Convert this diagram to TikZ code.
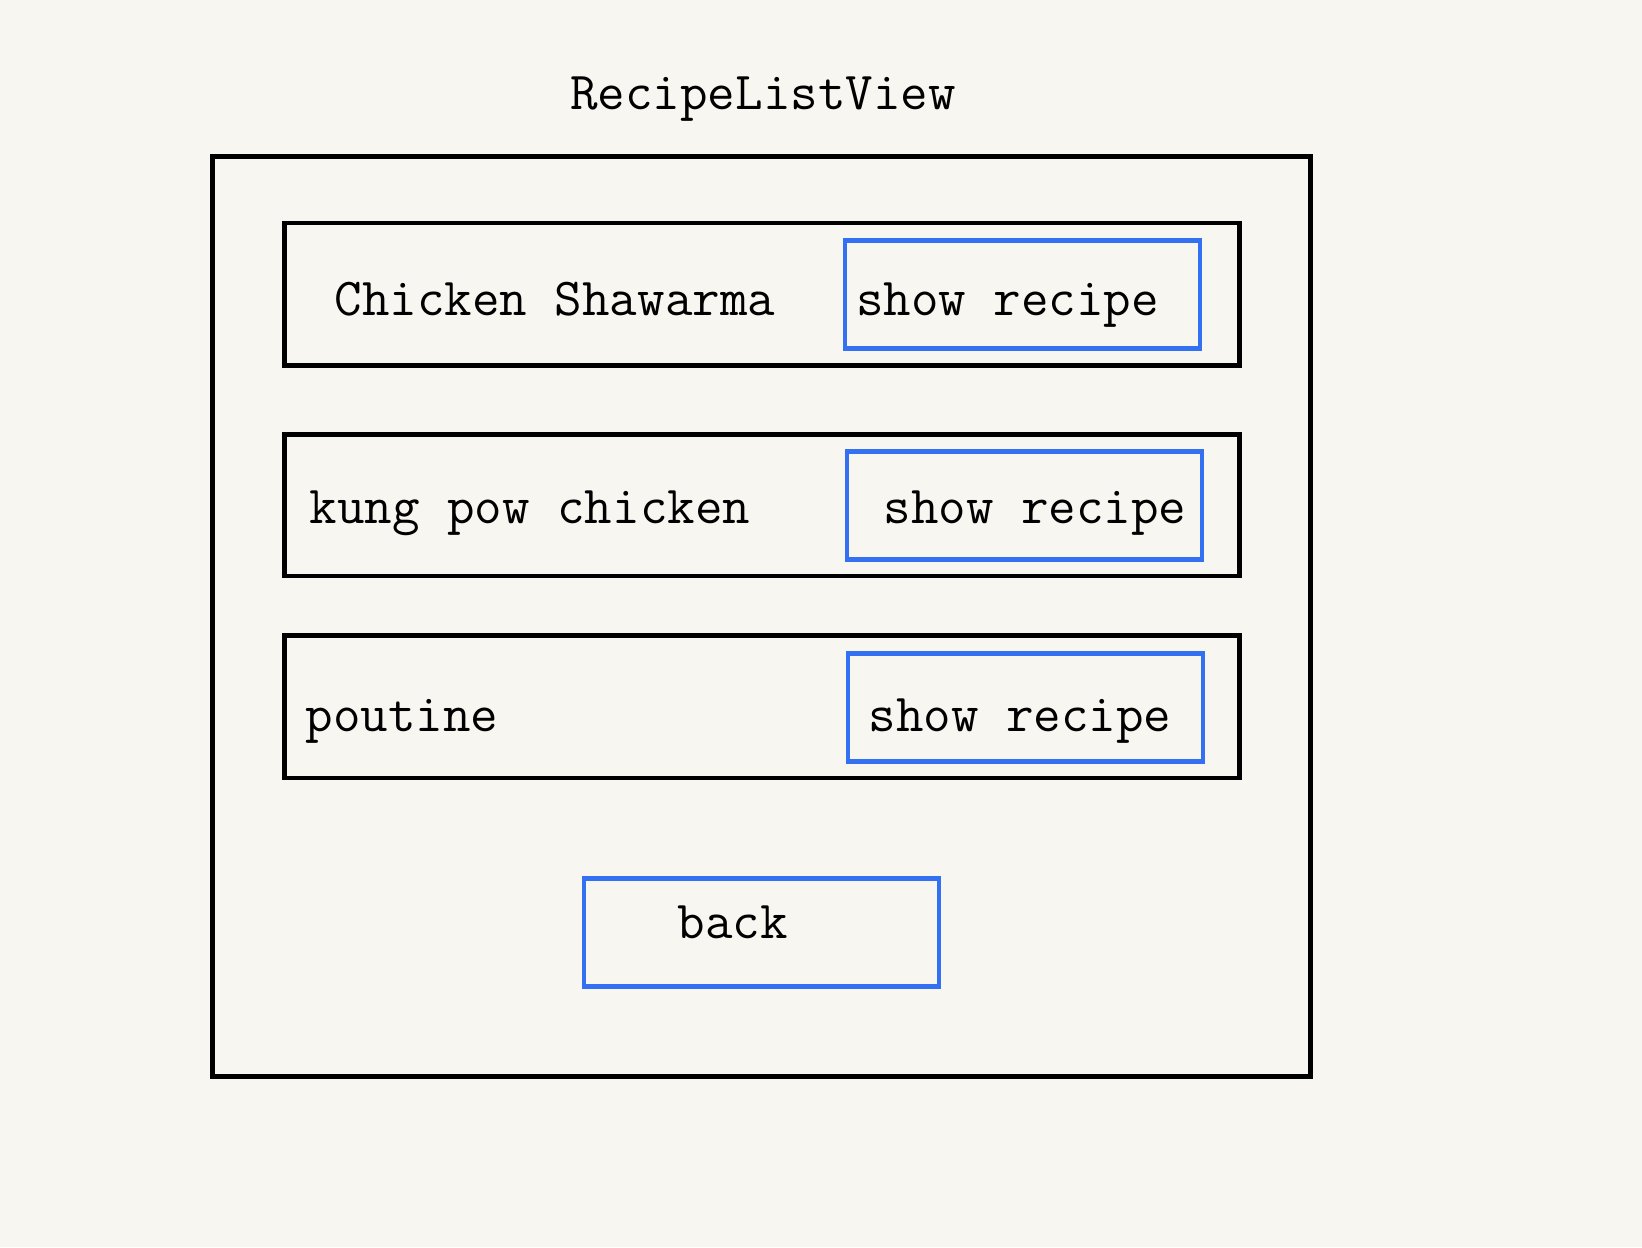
\documentclass[tikz,border=0pt]{standalone}
\usepackage{fontspec}
\usetikzlibrary{positioning}
\definecolor{paper}{RGB}{247,246,241}
\definecolor{btnblue}{RGB}{52,112,242}
\tikzset{
  framebox/.style={draw=black, line width=1.35pt, inner sep=0pt},
  btnbox/.style={draw=btnblue, line width=1.35pt, minimum width=3.55cm, minimum height=1.08cm, inner sep=0pt},
  label/.style={font=\ttfamily\fontsize{15.2pt}{18pt}\selectfont, inner sep=0pt, text=black}
}
\begin{document}
\begin{tikzpicture}[x=0.01cm, y=-0.01cm]
		%%%%% PAGE %%%%%
		\fill[paper] (0, 0) rectangle (1642, 1247);
		\useasboundingbox (0, 0) rectangle (1642, 1247);
		
		\node[label, anchor=base] (title) at (763, 109) {RecipeListView};
		
		\node[framebox, minimum width=10.974cm, minimum height=9.195cm] (view) at (761.3, 616.75) {};
		
		%%%%% ROWS %%%%%
		\node[framebox, minimum width=9.541cm, minimum height=1.425cm] (row1) at (761.85, 294.25) {};
		\node[framebox, minimum width=9.541cm, minimum height=1.414cm] (row2) at (761.85, 505.3) {};
		\node[framebox, minimum width=9.541cm, minimum height=1.424cm] (row3) at (761.85, 706.8) {};
		
		\node[btnbox] (show1) at (1022.5, 294.35) {};
		\node[btnbox] (show2) at (1024.5, 505.5) {};
		\node[btnbox] (show3) at (1025.5, 707.75) {};
		
		\node[label, anchor=base west] (name1) at (334, 315) {Chicken Shawarma};
		\node[label, anchor=base west] (text1) at (855.5, 315) {show recipe};
		\node[label, anchor=base west] (name2) at (309, 523.5) {kung pow chicken};
		\node[label, anchor=base west] (text2) at (883, 523.5) {show recipe};
		\node[label, anchor=base west] (name3) at (305, 731.5) {poutine};
		\node[label, anchor=base west] (text3) at (868, 731.5) {show recipe};
		
		%%%%% BACK %%%%%
		\node[btnbox] (back) at (761.5, 932.5) {};
		\node[label, anchor=base west] (backtext) at (677, 938.5) {back};
\end{tikzpicture}
\end{document}
